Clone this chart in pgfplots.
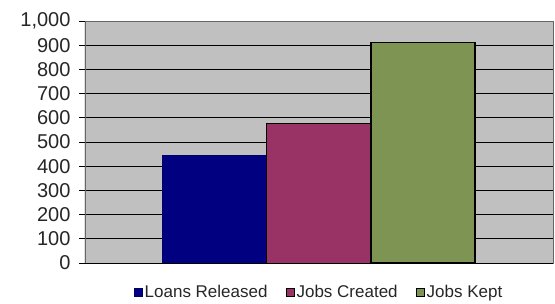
\documentclass[border=0pt]{standalone}
\usepackage{fontspec}
\setmainfont{Liberation Sans}
\usepackage{pgfplots}
\pgfplotsset{compat=1.18}
\definecolor{loans}{RGB}{0,0,128}
\definecolor{created}{RGB}{153,51,102}
\definecolor{kept}{RGB}{125,148,82}
\definecolor{plotbg}{RGB}{192,192,192}
\begin{document}
\begin{tikzpicture}
\path[use as bounding box] (-85pt,-40pt) rectangle (470pt,263pt);
\begin{axis}[
  at={(0,0)}, anchor=south west,
  scale only axis, width=468pt, height=242pt,
  xmin=-2.25, xmax=2.25, ymin=0, ymax=1000,
  ytick={0,100,...,1000},
  xtick=\empty,
  ymajorgrids, grid style={black, line width=0.8pt},
  axis background/.style={fill=plotbg},
  axis line style={draw=gray!80!black},
  tick style={black, line width=0.8pt},
  major tick length=6pt,
  /pgf/number format/1000 sep={,},
  /pgf/number format/assume math mode=true,
  tick align=outside, ytick pos=left,
  yticklabel style={font=\fontsize{20}{22}\selectfont, text=black!85, xshift=-5pt},
  ybar, bar width=1, bar shift=0pt,
  legend style={at={(0.5,-0.12)}, anchor=center, draw=none, fill=none,
    legend columns=-1, font=\fontsize{17}{19}\selectfont, text=black!85,
    inner sep=0pt, /tikz/every even column/.append style={column sep=16pt}},
  legend image code/.code={\draw[#1, line width=1pt] (0pt,-4pt) rectangle (8pt,4pt);},
  legend cell align=left,
]
\addplot[fill=loans, draw=loans!80!black, line width=1pt] coordinates {(-1,443)};
\addplot[fill=created, draw=black, line width=1pt] coordinates {(0,578)};
\addplot[fill=kept, draw=black, line width=1.2pt] coordinates {(1,912)};
\legend{Loans Released, Jobs Created, Jobs Kept}
\draw[black, line width=1pt] (axis cs:-2.25,0) -- (axis cs:-2.25,1000);
\draw[black, line width=1pt] (axis cs:-2.25,0) -- (axis cs:2.25,0);
\draw[black, line width=0.8pt] (axis cs:-2.25,0) -- ++(0pt,-6pt);
\end{axis}
\end{tikzpicture}
\end{document}
